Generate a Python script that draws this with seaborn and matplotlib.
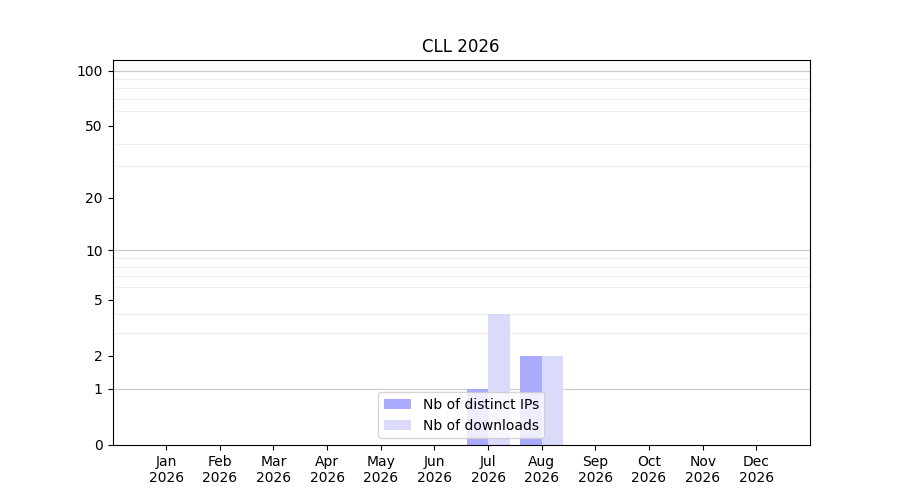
import numpy as np
import pandas as pd
import seaborn as sns
import matplotlib
matplotlib.use('Agg')
import matplotlib.pyplot as plt

# data
months = ['Jan', 'Feb', 'Mar', 'Apr', 'May', 'Jun', 'Jul', 'Aug', 'Sep', 'Oct', 'Nov', 'Dec']
year = '2026'
distinct_ips = [0, 0, 0, 0, 0, 0, 1, 2, 0, 0, 0, 0]
downloads = [0, 0, 0, 0, 0, 0, 4, 2, 0, 0, 0, 0]
y_ticks = [0, 1, 2, 5, 10, 20, 50, 100]

labels = [m + '\n' + year for m in months]
df = pd.DataFrame({
    'month': labels * 2,
    'value': distinct_ips + downloads,
    'serie': ['Nb of distinct IPs'] * 12 + ['Nb of downloads'] * 12,
})

fig, ax = plt.subplots(figsize=(9, 5), dpi=100)

# echelle log(x+1) pour garder le zero
ax.set_yscale('function', functions=(lambda v: np.log10(np.clip(v, 0, None) + 1),
                                     lambda v: 10 ** v - 1))

sns.barplot(data=df, x='month', y='value', hue='serie', ax=ax,
            palette=['#aaaaff', '#dadafa'], saturation=1, linewidth=0,
            width=0.8, dodge=True)

ax.set_xlim(-1, 12)
ax.set_ylim(0, 114)
ax.set_yticks(y_ticks)
ax.set_yticklabels([str(t) for t in y_ticks])
minor = [v for v in list(range(2, 10)) + list(range(20, 100, 10))]
ax.set_yticks(minor, minor=True)
ax.tick_params(axis='y', which='minor', length=0)
ax.grid(False)
ax.grid(axis='y', which='minor', color='#eeeeee', linewidth=0.8)
for v in [1, 10, 100]:
    ax.axhline(v, color='#cccccc', linewidth=0.9, zorder=0.5)
ax.set_axisbelow(True)

ax.set_xlabel('')
ax.set_ylabel('')
ax.set_title('CLL 2026')
ax.legend(loc='lower center')

plt.savefig('out.png', dpi=100)
